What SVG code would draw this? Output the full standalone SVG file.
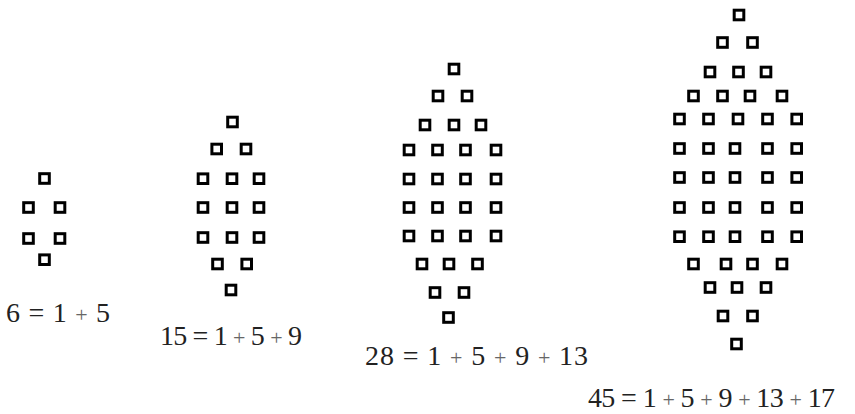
<svg xmlns="http://www.w3.org/2000/svg" xmlns:xlink="http://www.w3.org/1999/xlink" width="855" height="414" viewBox="0 0 855 414">
<style>
.sq{fill:#fff;stroke:#000;stroke-width:3}
.lbl{font-family:"Liberation Serif","DejaVu Serif",serif;font-size:28px;fill:#222}
.pl{font-size:22px;fill:#666}
</style>
<defs>
<rect id="sq" class="sq" x="-4.8" y="-4.8" width="9.6" height="9.6"/>
</defs>
<rect width="855" height="414" fill="#fff"/>
<g id="fig1">
<use href="#sq" x="44.5" y="178.5"/>
<use href="#sq" x="28.5" y="207.5"/><use href="#sq" x="60" y="207.5"/>
<use href="#sq" x="28.5" y="238.5"/><use href="#sq" x="60" y="238.5"/>
<use href="#sq" x="44.5" y="259.7"/>
<text class="lbl" x="6" y="322" textLength="104" lengthAdjust="spacing">6 = 1 <tspan class="pl">+</tspan> 5</text>
</g>
<g id="fig2">
<use href="#sq" x="232.5" y="122"/>
<use href="#sq" x="216.7" y="149"/><use href="#sq" x="246" y="149"/>
<use href="#sq" x="203" y="178.7"/><use href="#sq" x="232" y="178.7"/><use href="#sq" x="259" y="178.7"/>
<use href="#sq" x="203" y="207.5"/><use href="#sq" x="232" y="207.5"/><use href="#sq" x="259" y="207.5"/>
<use href="#sq" x="203" y="237.5"/><use href="#sq" x="232" y="237.5"/><use href="#sq" x="259" y="237.5"/>
<use href="#sq" x="217.5" y="264"/><use href="#sq" x="246.7" y="264"/>
<use href="#sq" x="231" y="290"/>
<text class="lbl" x="160" y="345" textLength="142" lengthAdjust="spacing">15 = 1 <tspan class="pl">+</tspan> 5 <tspan class="pl">+</tspan> 9</text>
</g>
<g id="fig3">
<use href="#sq" x="454" y="69"/>
<use href="#sq" x="438" y="96"/><use href="#sq" x="467" y="96"/>
<use href="#sq" x="425" y="125"/><use href="#sq" x="454" y="125"/><use href="#sq" x="481" y="125"/>
<use href="#sq" x="409" y="150"/><use href="#sq" x="437.5" y="150"/><use href="#sq" x="465.5" y="150"/><use href="#sq" x="496" y="150"/>
<use href="#sq" x="409" y="179"/><use href="#sq" x="437.5" y="179"/><use href="#sq" x="465.5" y="179"/><use href="#sq" x="496" y="179"/>
<use href="#sq" x="409" y="207.5"/><use href="#sq" x="437.5" y="207.5"/><use href="#sq" x="465.5" y="207.5"/><use href="#sq" x="496" y="207.5"/>
<use href="#sq" x="409" y="236"/><use href="#sq" x="437.5" y="236"/><use href="#sq" x="465.5" y="236"/><use href="#sq" x="496" y="236"/>
<use href="#sq" x="422" y="264"/><use href="#sq" x="449" y="264"/><use href="#sq" x="477.5" y="264"/>
<use href="#sq" x="435" y="292.5"/><use href="#sq" x="464" y="292.5"/>
<use href="#sq" x="448.5" y="317.5"/>
<text class="lbl" x="365" y="365" textLength="223" lengthAdjust="spacing">28 = 1 <tspan class="pl">+</tspan> 5 <tspan class="pl">+</tspan> 9 <tspan class="pl">+</tspan> 13</text>
</g>
<g id="fig4">
<use href="#sq" x="739" y="15"/>
<use href="#sq" x="722.5" y="42.5"/><use href="#sq" x="752.5" y="42.5"/>
<use href="#sq" x="710" y="72"/><use href="#sq" x="738.5" y="72"/><use href="#sq" x="766" y="72"/>
<use href="#sq" x="693.5" y="96"/><use href="#sq" x="722.5" y="96"/><use href="#sq" x="750" y="96"/><use href="#sq" x="782" y="96"/>
<use href="#sq" x="679.5" y="119"/><use href="#sq" x="708.5" y="119"/><use href="#sq" x="738" y="119"/><use href="#sq" x="767.5" y="119"/><use href="#sq" x="796.7" y="119"/>
<use href="#sq" x="679.5" y="148.5"/><use href="#sq" x="708.5" y="148.5"/><use href="#sq" x="735" y="148.5"/><use href="#sq" x="767.5" y="148.5"/><use href="#sq" x="796.7" y="148.5"/>
<use href="#sq" x="679.5" y="177.5"/><use href="#sq" x="708.5" y="177.5"/><use href="#sq" x="735" y="177.5"/><use href="#sq" x="767.5" y="177.5"/><use href="#sq" x="796.7" y="177.5"/>
<use href="#sq" x="679.5" y="207.5"/><use href="#sq" x="708.5" y="207.5"/><use href="#sq" x="735" y="207.5"/><use href="#sq" x="767.5" y="207.5"/><use href="#sq" x="796.7" y="207.5"/>
<use href="#sq" x="679.5" y="236.7"/><use href="#sq" x="708.5" y="236.7"/><use href="#sq" x="735" y="236.7"/><use href="#sq" x="767.5" y="236.7"/><use href="#sq" x="796.7" y="236.7"/>
<use href="#sq" x="693.5" y="264"/><use href="#sq" x="726" y="264"/><use href="#sq" x="752.5" y="264"/><use href="#sq" x="782" y="264"/>
<use href="#sq" x="710" y="287.5"/><use href="#sq" x="737" y="287.5"/><use href="#sq" x="766" y="287.5"/>
<use href="#sq" x="723" y="316"/><use href="#sq" x="752.5" y="316"/>
<use href="#sq" x="736.5" y="344"/>
<text class="lbl" x="588" y="407" textLength="247" lengthAdjust="spacing">45 = 1 <tspan class="pl">+</tspan> 5 <tspan class="pl">+</tspan> 9 <tspan class="pl">+</tspan> 13 <tspan class="pl">+</tspan> 17</text>
</g>
</svg>
